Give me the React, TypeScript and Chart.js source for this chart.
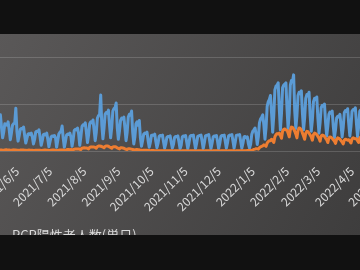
import React, { useEffect, useRef } from 'react';
import { Chart, registerables } from 'chart.js';

Chart.register(...registerables);

// First data day and the origin used for day numbers
const ORIGIN = '2021/5/1';
const FIRST_DATE = '2021/5/20';

// x-axis tick labels (5th of every month)
const tickLabels = [
  '2021/6/5', '2021/7/5', '2021/8/5', '2021/9/5', '2021/10/5', '2021/11/5',
  '2021/12/5', '2022/1/5', '2022/2/5', '2022/3/5', '2022/4/5', '2022/5/5',
];

// y-axis gridline values (thousands)
const yTicks = [0, 100, 200, 300];

const TITLE = 'PCR陽性者人数(単日)';

// Blue series, daily, thousands (from 2021/5/20)
const blueSeries = [
  66, 77,
  50, 28, 40, 58, 56, 55, 62,
  45, 24, 38, 55, 58, 60, 91,
  42, 21, 32, 46, 48, 47, 51,
  33, 17, 26, 36, 37, 35, 38,
  30, 15, 24, 40, 42, 41, 45,
  29, 12, 22, 35, 36, 34, 38,
  25, 9, 20, 30, 32, 31, 33,
  28, 8, 22, 36, 40, 42, 53,
  27, 8, 20, 34, 36, 35, 38,
  30, 10, 24, 44, 46, 45, 49,
  36, 12, 30, 52, 56, 55, 60,
  40, 18, 34, 58, 62, 60, 66,
  45, 22, 40, 70, 75, 78, 119,
  55, 26, 48, 78, 82, 80, 87,
  55, 28, 50, 85, 90, 92, 102,
  50, 25, 42, 65, 70, 68, 72,
  48, 22, 40, 72, 78, 76, 85,
  40, 15, 30, 58, 62, 55, 65,
  28, 10, 22, 36, 38, 37, 40,
  22, 8, 18, 33, 34, 33, 36,
  20, 7, 16, 31, 33, 32, 34,
  19, 6, 15, 29, 31, 30, 32,
  18, 6, 14, 29, 31, 30, 32,
  19, 5, 12, 30, 32, 31, 33,
  19, 5, 16, 31, 33, 32, 34,
  19, 5, 16, 31, 32, 33, 34,
  20, 5, 17, 32, 33, 34, 35,
  19, 5, 16, 30, 32, 31, 33,
  20, 5, 16, 31, 33, 32, 34,
  20, 6, 17, 32, 34, 33, 35,
  21, 6, 18, 33, 34, 34, 35,
  20, 6, 16, 30, 31, 28, 30,
  15, 6, 14, 35, 42, 45, 49,
  35, 14, 30, 60, 68, 72, 77,
  55, 25, 50, 95, 105, 110, 118,
  80, 40, 75, 130, 138, 140, 145,
  90, 45, 80, 135, 140, 142, 145,
  90, 48, 80, 140, 150, 148, 162,
  85, 48, 75, 118, 125, 122, 128,
  80, 45, 70, 112, 120, 118, 125,
  75, 42, 65, 105, 112, 110, 115,
  70, 38, 60, 92, 97, 95, 100,
  60, 32, 52, 78, 83, 80, 85,
  52, 28, 45, 70, 74, 72, 78,
  55, 30, 50, 82, 86, 84, 90,
  58, 32, 52, 85, 88, 87, 92,
  58, 30, 52, 85, 88,
];

// Orange series, daily, thousands (from 2021/5/20)
const orangeSeries = [
  2.2, 2.0,
  2.0, 1.7, 1.4, 2.2, 2.5, 2.4, 2.2,
  1.9, 1.6, 1.3, 2.1, 2.4, 2.3, 2.1,
  1.8, 1.5, 1.2, 1.9, 2.2, 2.1, 1.9,
  1.6, 1.4, 1.1, 1.7, 1.9, 1.8, 1.7,
  1.5, 1.3, 1.0, 1.6, 1.8, 1.8, 1.6,
  1.5, 1.3, 1.0, 1.7, 1.9, 1.9, 1.8,
  1.6, 1.3, 1.1, 1.8, 2.0, 2.1, 1.9,
  1.5, 1.2, 1.0, 1.8, 2.0, 2.2, 2.0,
  2.0, 1.6, 1.3, 2.5, 3.0, 3.0, 2.8,
  3.0, 2.5, 2.0, 4.0, 4.5, 4.5, 4.2,
  4.5, 3.8, 3.0, 6.0, 6.5, 6.8, 6.5,
  6.5, 5.5, 4.5, 7.8, 8.5, 8.8, 8.4,
  8.5, 7.5, 6.0, 9.5, 10.5, 10.8, 10.2,
  9.5, 8.5, 7.0, 10.0, 10.8, 10.6, 10.0,
  8.5, 7.5, 6.0, 8.8, 9.2, 9.0, 8.4,
  6.5, 5.5, 4.5, 6.8, 7.0, 6.6, 6.0,
  4.5, 3.8, 3.0, 4.6, 4.8, 4.4, 4.0,
  3.0, 2.5, 2.0, 3.0, 3.0, 2.8, 2.5,
  1.8, 1.5, 1.2, 1.8, 1.8, 1.6, 1.5,
  1.1, 0.9, 0.7, 1.0, 1.0, 0.9, 0.8,
  0.6, 0.5, 0.4, 0.6, 0.6, 0.5, 0.5,
  0.4, 0.4, 0.3, 0.4, 0.4, 0.4, 0.4,
  0.3, 0.3, 0.2, 0.3, 0.3, 0.3, 0.3,
  0.3, 0.2, 0.2, 0.3, 0.3, 0.3, 0.3,
  0.3, 0.2, 0.2, 0.3, 0.3, 0.3, 0.3,
  0.3, 0.2, 0.2, 0.3, 0.3, 0.3, 0.3,
  0.3, 0.2, 0.2, 0.3, 0.3, 0.3, 0.3,
  0.3, 0.2, 0.2, 0.3, 0.3, 0.3, 0.3,
  0.3, 0.2, 0.2, 0.3, 0.3, 0.3, 0.3,
  0.3, 0.3, 0.2, 0.3, 0.3, 0.3, 0.3,
  0.3, 0.3, 0.2, 0.3, 0.4, 0.4, 0.4,
  0.4, 0.3, 0.3, 0.5, 0.6, 0.8, 1.0,
  1.2, 1.0, 0.9, 1.6, 2.5, 3.5, 4.0,
  5.0, 4.5, 4.0, 7.0, 9.0, 10.0, 11.0,
  13.0, 12.0, 10.0, 17.0, 20.0, 22.0, 22.0,
  25.0, 22.0, 18.0, 30.0, 35.0, 37.0, 36.0,
  38.0, 33.0, 27.0, 42.0, 46.0, 47.0, 45.0,
  44.0, 38.0, 30.0, 45.0, 51.0, 50.0, 47.0,
  42.0, 36.0, 28.0, 44.0, 49.0, 48.0, 45.0,
  38.0, 32.0, 25.0, 38.0, 42.0, 41.0, 38.0,
  34.0, 30.0, 23.0, 35.0, 38.0, 37.0, 35.0,
  31.0, 27.0, 21.0, 32.0, 34.0, 33.0, 31.0,
  27.0, 24.0, 18.0, 28.0, 30.0, 29.0, 27.0,
  24.0, 21.0, 16.0, 25.0, 28.0, 27.0, 25.0,
  22.0, 19.0, 15.0, 23.0, 25.0, 24.0, 23.0,
  24.0, 21.0, 17.0, 26.0, 28.0, 27.0, 26.0,
  26.0, 22.0, 18.0, 28.0, 30.0,
];

const FONT = '"Noto Sans CJK JP", "Noto Sans", sans-serif';

function dayOf(label: string): number {
  const [y, m, d] = label.split('/').map(Number);
  const [oy, om, od] = ORIGIN.split('/').map(Number);
  return (Date.UTC(y, m - 1, d) - Date.UTC(oy, om - 1, od)) / 86400000;
}

const X_MIN = 19.64;
const X_MAX = 382.5;

const panelPlugin = {
  id: 'panelPlugin',
  beforeDraw(chart: any) {
    const { ctx, width, height } = chart;
    ctx.save();
    ctx.fillStyle = '#111111';
    ctx.fillRect(0, 0, width, height);
    const g = ctx.createLinearGradient(0, 34, 360, 235);
    g.addColorStop(0, '#5a5858');
    g.addColorStop(1, '#3e3d3d');
    ctx.fillStyle = g;
    ctx.fillRect(0, 34, width, 201);
    ctx.restore();
  },
  afterDraw(chart: any) {
    const { ctx, width, height } = chart;
    ctx.save();
    ctx.fillStyle = '#d9d9d9';
    ctx.font = '13px ' + FONT;
    ctx.textBaseline = 'middle';
    ctx.textAlign = 'left';
    ctx.fillText(TITLE, 12, 235);
    ctx.fillStyle = '#111111';
    ctx.fillRect(0, 0, width, 34);
    ctx.fillRect(0, 235, width, height - 235);
    ctx.restore();
  },
};

export default function App() {
  const ref = useRef<HTMLCanvasElement | null>(null);

  useEffect(() => {
    if (!ref.current) return;
    const first = dayOf(FIRST_DATE);
    const tickDays = tickLabels.map(dayOf);
    const chart = new Chart(ref.current, {
      type: 'line',
      data: {
        datasets: [
          {
            label: 'PCR検査実施人数',
            data: blueSeries.map((v, i) => ({ x: first + i, y: v })),
            borderColor: '#5b9bd5',
            borderWidth: 3,
            borderJoinStyle: 'round',
            pointRadius: 0,
            tension: 0,
            order: 2,
          },
          {
            label: TITLE,
            data: orangeSeries.map((v, i) => ({ x: first + i, y: v })),
            borderColor: '#ed7d31',
            borderWidth: 3,
            borderJoinStyle: 'round',
            pointRadius: 0,
            tension: 0,
            order: 1,
          },
        ],
      },
      options: {
        responsive: false,
        animation: false,
        devicePixelRatio: 1,
        layout: { padding: { top: 10, left: 0, right: 0, bottom: 0 }, autoPadding: false },
        plugins: {
          legend: { display: false },
          tooltip: { enabled: false },
          title: { display: false },
        },
        scales: {
          x: {
            type: 'linear',
            min: X_MIN,
            max: X_MAX,
            grid: { display: false, drawTicks: false },
            border: { display: false },
            afterBuildTicks: (s: any) => {
              s.ticks = tickDays.filter((d) => d >= X_MIN && d <= X_MAX).map((d) => ({ value: d }));
            },
            afterFit: (s: any) => {
              s.height = 119;
              s.paddingLeft = 0;
              s.paddingRight = 0;
            },
            ticks: {
              autoSkip: false,
              minRotation: 45,
              maxRotation: 45,
              padding: 13,
              color: '#d9d9d9',
              font: { family: FONT, size: 12 },
              callback: (v: any) => {
                const idx = tickDays.indexOf(Number(v));
                return idx >= 0 ? tickLabels[idx] : '';
              },
            },
          },
          y: {
            type: 'linear',
            min: 0,
            max: 300,
            afterBuildTicks: (s: any) => {
              s.ticks = yTicks.map((v) => ({ value: v }));
            },
            afterFit: (s: any) => {
              s.width = 0;
            },
            grid: { color: 'rgba(255,255,255,0.16)', lineWidth: 1, drawTicks: false },
            border: { display: false },
            ticks: { display: false },
          },
        },
      },
      plugins: [panelPlugin],
    } as any);
    return () => chart.destroy();
  }, []);

  return (
    <div style={{ position: 'fixed', left: 0, top: 0, width: 360, height: 270, overflow: 'hidden', background: '#111' }}>
      <canvas ref={ref} width={400} height={270} style={{ display: 'block', width: 400, height: 270 }} />
    </div>
  );
}
